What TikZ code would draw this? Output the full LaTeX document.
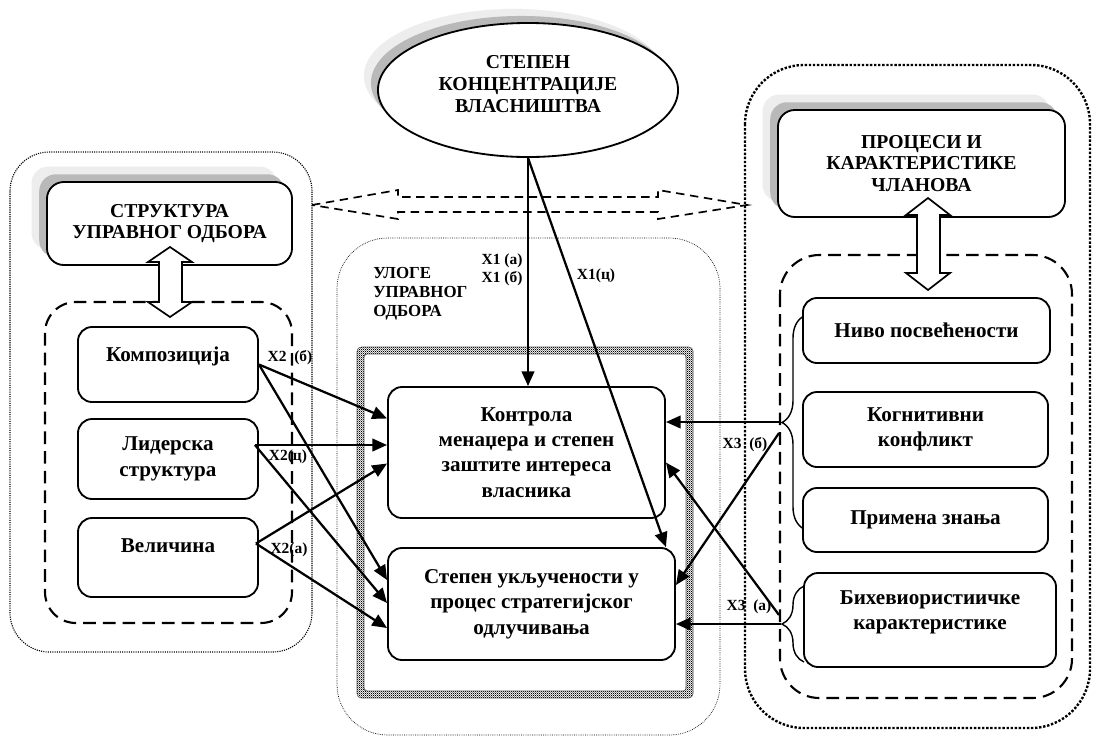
\documentclass[tikz,border=0pt]{standalone}
\usepackage{fontspec}
\setmainfont{Liberation Serif}
\usetikzlibrary{arrows.meta,calc,patterns,shadows,shapes.geometric,decorations.pathreplacing}

% fine checker for the frame round the two roles
\pgfdeclarepatternformonly{finechecker}{\pgfpointorigin}{\pgfqpoint{1.6pt}{1.6pt}}{\pgfqpoint{1.6pt}{1.6pt}}{%
  \pgfpathrectangle{\pgfpointorigin}{\pgfqpoint{0.8pt}{0.8pt}}%
  \pgfpathrectangle{\pgfqpoint{0.8pt}{0.8pt}}{\pgfqpoint{0.8pt}{0.8pt}}%
  \pgfusepath{fill}}

\tikzset{
  box/.style={draw, line width=1.3pt, rounded corners=10pt, fill=white, align=center,
    inner sep=2pt, font=\bfseries\fontsize{15}{18}\selectfont},
  boxtext/.style={align=center, inner sep=0pt, font=\bfseries\fontsize{15}{18}\selectfont},
  twoshade/.style={general shadow={fill=gray!14, shadow xshift=-11pt, shadow yshift=11pt},
    general shadow={fill=gray!55, shadow xshift=-5.5pt, shadow yshift=5.5pt}},
  headbox/.style={box, twoshade, rounded corners=12pt, font=\bfseries\fontsize{14}{14.5}\selectfont},
  lbl/.style={inner sep=0pt, font=\bfseries\fontsize{11}{12}\selectfont},
  link/.style={line width=1.6pt, -{Triangle[length=10.5pt,width=9pt]}},
  finedots/.style={line width=0.8pt, dash pattern=on 0.8pt off 0.8pt},
  thickdots/.style={line width=1.7pt, dash pattern=on 1.7pt off 1.2pt},
  hairdots/.style={line width=0.5pt, dash pattern=on 0.5pt off 0.8pt},
  longdash/.style={line width=1.5pt, dash pattern=on 9pt off 5pt},
  hollow/.style={draw, line width=1.2pt, fill=white}
}

\begin{document}
\begin{tikzpicture}[x=0.025cm, y=-0.025cm]
  \fill[white] (0,0) rectangle (1095,738);
  \useasboundingbox (0,0) rectangle (1095,738);

  % outer groups
  \draw[finedots, rounded corners=28pt] (10,152) rectangle (312,652);
  \draw[thickdots, rounded corners=42pt] (745,65) rectangle (1090,728);
  \draw[hairdots, rounded corners=36pt] (337,238) rectangle (720,735);

  % dashed two-way arrow between the side groups
  \draw[line width=1.2pt, dash pattern=on 6pt off 4pt]
    (312,205) -- (398,190) -- (398,197) -- (658,197) -- (658,190) -- (747,205)
    -- (658,219) -- (658,212) -- (398,212) -- (398,219) -- cycle;

  \draw[longdash, rounded corners=22pt] (45,302) rectangle (292,623);
  \draw[longdash, rounded corners=28pt] (780,255) rectangle (1072,698);

  % checker frame
  \fill[pattern=finechecker, even odd rule, rounded corners=3pt]
    (357,347) rectangle (693,698) (364,354) rectangle (686,691);
  \draw[line width=0.4pt, gray!70!black, rounded corners=3pt] (357,347) rectangle (693,698);
  \draw[line width=0.4pt, gray!70!black, rounded corners=2pt] (364,354) rectangle (686,691);

  % braces on the member characteristics
  \coordinate (tipA) at (781,422);
  \coordinate (tipB) at (781,624);
  \draw[line width=1pt, decorate, decoration={brace, amplitude=0.55cm}] (804,529) -- (804,316);
  \draw[line width=1pt, decorate, decoration={brace, amplitude=0.55cm}] (804,662) -- (804,586);

  % ownership
  \node[ellipse, draw, line width=1.3pt, fill=white, inner sep=0pt,
    minimum width=7.5cm, minimum height=3.35cm,
    general shadow={fill=gray!14, shadow xshift=-10pt, shadow yshift=10pt},
    general shadow={fill=gray!55, shadow xshift=-5pt, shadow yshift=5pt}] (own) at (528,90) {};
  \node[boxtext, font=\bfseries\fontsize{14}{15.5}\selectfont] (own-t) at (528,84)
    {СТЕПЕН\\КОНЦЕНТРАЦИЈЕ\\ВЛАСНИШТВА};

  % board structure
  \node[headbox, minimum width=6.125cm, minimum height=2.075cm] (lhead) at (169.5,223.5)
    {СТРУКТУРА\\УПРАВНОГ ОДБОРА};
  \node[box, minimum width=4.5cm, minimum height=1.875cm] (comp) at (168,364.5) {};
  \node[boxtext] (comp-t) at (168,356) {Композиција};
  \node[box, minimum width=4.5cm, minimum height=2cm] (lid) at (168,459) {Лидерска\\структура};
  \node[box, minimum width=4.5cm, minimum height=1.975cm] (vel) at (168,557.5) {};
  \node[boxtext] (vel-t) at (168,546) {Величина};

  % board roles
  \node[box, minimum width=6.925cm, minimum height=3.275cm] (ctrl) at (526.5,452.5)
    {Контрола\\менаџера и степен\\заштите интереса\\власника};
  \node[box, minimum width=7.175cm, minimum height=2.8cm] (incl) at (531.5,604)
    {Степен укључености у\\процес стратегијског\\одлучивања};
  \node[lbl, anchor=west, align=left, font=\bfseries\fontsize{12}{13.5}\selectfont] (roles) at (373,294)
    {УЛОГЕ\\УПРАВНОГ\\ОДБОРА};

  % member processes
  \node[headbox, minimum width=7.175cm, minimum height=2.675cm,
    font=\bfseries\fontsize{14}{15.5}\selectfont] (rhead) at (921.5,163.5)
    {ПРОЦЕСИ И\\КАРАКТЕРИСТИКЕ\\ЧЛАНОВА};
  \node[box, minimum width=6.175cm, minimum height=1.625cm] (niv) at (926.5,330.5) {Ниво посвећености};
  \node[box, minimum width=6.125cm, minimum height=1.875cm] (kog) at (925.5,429.5) {Когнитивни\\конфликт};
  \node[box, minimum width=6.125cm, minimum height=1.6cm] (prim) at (925.5,520) {Примена знања};
  \node[box, minimum width=6.3cm, minimum height=2.35cm] (bih) at (930,620) {};
  \node[boxtext] (bih-t) at (930,612.5) {Бихевиористиичке\\карактеристике};

  % hollow two-way arrows
  \draw[hollow] (170,247) -- (192,262) -- (182,262) -- (182,302) -- (192,302) -- (170,317)
    -- (148,302) -- (159,302) -- (159,262) -- (148,262) -- cycle;
  \draw[hollow] (928,198) -- (950,215) -- (940,215) -- (940,273) -- (950,273) -- (928,290)
    -- (906,273) -- (917,273) -- (917,215) -- (906,215) -- cycle;

  % X1
  \draw[link] (own.south) -- (own.south |- ctrl.north);
  \draw[link] (own.south) -- ($(incl.north east)+(-10,0)$);

  % X2
  \coordinate (lidout) at ($(lid.east)+(-4,-14)$);
  \coordinate (velout) at ($(vel.east)+(-3,-14)$);
  \draw[link] (comp.east) -- ($(ctrl.west)+(0,-34)$);
  \draw[link] (comp.east) -- ($(incl.west)+(0,-24)$);
  \draw[link] (lidout) -- (lidout -| ctrl.west);
  \draw[link] (lidout) -- ($(incl.west)+(0,-1)$);
  \draw[link] (velout) -- ($(ctrl.west)+(0,11)$);
  \draw[link] (velout) -- ($(incl.west)+(0,24)$);

  % X3
  \draw[link] (tipA) -- (tipA -| ctrl.east);
  \draw[link] ($(tipA)+(-2,11)$) -- ($(incl.east)+(0,-19)$);
  \draw[link] ($(tipB)+(-2,-9)$) -- ($(ctrl.east)+(0,10)$);
  \draw[link] (tipB) -- (tipB -| incl.east);

  \node[lbl] (x1a) at (502,261) {Х1 (а)};
  \node[lbl] (x1b) at (502,279) {Х1 (б)};
  \node[lbl] (x1c) at (596,276) {Х1(ц)};
  \node[lbl] (x2b) at (290,358) {Х2 \ (б)};
  \node[lbl] (x2c) at (288,457) {Х2(ц)};
  \node[lbl] (x2a) at (289,550) {Х2(а)};
  \node[lbl] (x3b) at (745,445) {Х3 \ (б)};
  \node[lbl] (x3a) at (749,607) {Х3 \ (а)};
\end{tikzpicture}
\end{document}
